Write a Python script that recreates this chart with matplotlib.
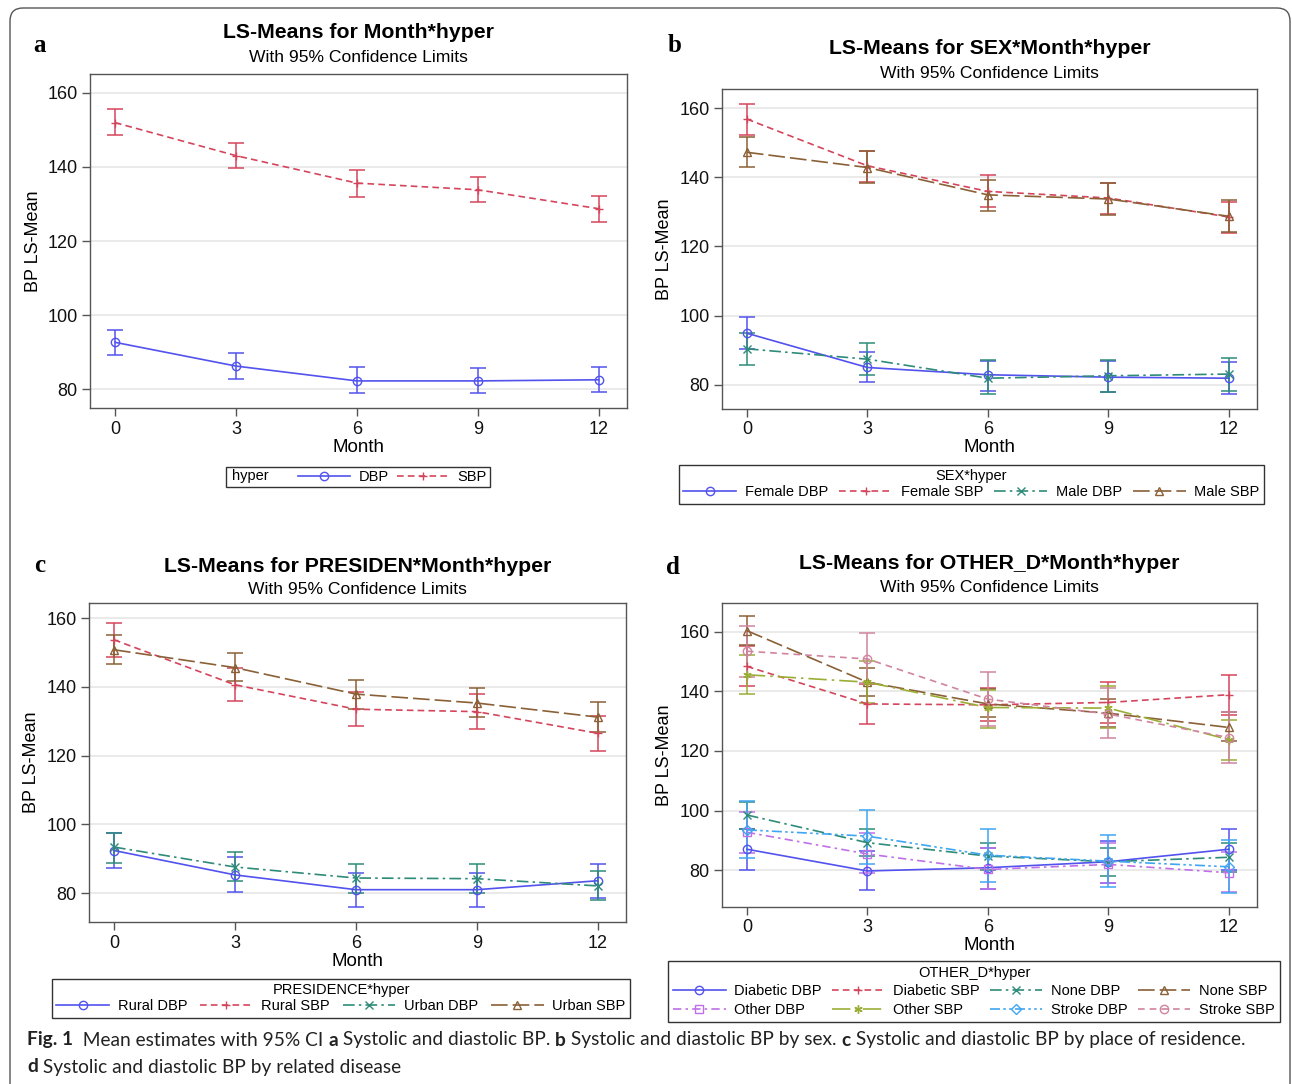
import matplotlib
matplotlib.use("Agg")
import matplotlib.pyplot as plt
import matplotlib.text as mtext
from matplotlib.lines import Line2D
from matplotlib.patches import FancyBboxPatch
import numpy as np

plt.rcParams['font.family'] = ['Liberation Sans', 'DejaVu Sans']

W, H = 1292, 1084

months = [0, 3, 6, 9, 12]

# ---- panel a ----
a_dbp = [92.7, 86.3, 82.3, 82.3, 82.6]
a_dbp_lo = [89.3, 82.9, 79.0, 79.0, 79.2]
a_dbp_hi = [96.1, 89.8, 86.0, 85.7, 86.0]
a_sbp = [151.9, 143.0, 135.6, 133.8, 128.7]
a_sbp_lo = [148.6, 139.7, 131.9, 130.4, 125.2]
a_sbp_hi = [155.5, 146.5, 139.0, 137.2, 132.0]

# ---- panel b ----
female_dbp = [94.9, 85.0, 82.9, 82.2, 81.9]
female_dbp_lo = [90.3, 80.7, 78.3, 77.9, 77.4]
female_dbp_hi = [99.5, 89.6, 86.9, 86.9, 86.7]
female_sbp = [156.8, 143.3, 135.9, 134.0, 128.5]
female_sbp_lo = [152.3, 138.6, 131.4, 129.4, 123.9]
female_sbp_hi = [161.2, 147.7, 140.7, 138.4, 132.8]
male_dbp = [90.4, 87.4, 81.9, 82.6, 83.1]
male_dbp_lo = [85.8, 82.9, 77.3, 77.9, 78.3]
male_dbp_hi = [94.9, 92.2, 87.2, 87.2, 87.7]
male_sbp = [147.2, 142.8, 134.9, 133.7, 128.7]
male_sbp_lo = [142.9, 138.3, 130.1, 129.2, 124.3]
male_sbp_hi = [151.5, 147.7, 139.2, 138.3, 133.5]

# ---- panel c ----
rural_dbp = [92.4, 85.3, 81.0, 81.0, 83.6]
rural_dbp_lo = [87.4, 80.3, 75.9, 75.9, 78.7]
rural_dbp_hi = [97.4, 90.4, 86.0, 86.0, 88.4]
rural_sbp = [153.7, 140.6, 133.5, 132.8, 126.5]
rural_sbp_lo = [148.7, 135.8, 128.5, 127.8, 121.4]
rural_sbp_hi = [158.7, 145.4, 138.4, 137.9, 131.4]
urban_dbp = [93.4, 87.6, 84.4, 84.2, 82.1]
urban_dbp_lo = [88.9, 83.4, 80.0, 80.0, 77.9]
urban_dbp_hi = [97.5, 91.9, 88.4, 88.4, 86.3]
urban_sbp = [150.8, 145.6, 137.9, 135.3, 131.2]
urban_sbp_lo = [146.6, 141.6, 133.5, 131.2, 126.8]
urban_sbp_hi = [155.2, 150.0, 142.1, 139.6, 135.5]

# ---- panel d ----
diab_dbp = [87.0, 79.7, 80.8, 82.8, 87.0]
diab_dbp_lo = [80.0, 73.2, 73.8, 75.7, 80.0]
diab_dbp_hi = [93.7, 86.5, 87.5, 89.8, 93.7]
diab_sbp = [148.4, 135.8, 135.5, 136.3, 138.9]
diab_sbp_lo = [141.7, 129.0, 130.0, 129.4, 132.2]
diab_sbp_hi = [155.1, 142.6, 141.0, 143.2, 145.6]
none_dbp = [98.5, 89.2, 84.7, 82.8, 84.3]
none_dbp_lo = [93.7, 84.7, 80.0, 78.1, 79.4]
none_dbp_hi = [103.0, 93.7, 89.2, 87.3, 89.0]
none_sbp = [160.4, 143.1, 135.8, 132.7, 127.9]
none_sbp_lo = [155.7, 138.3, 131.4, 127.9, 123.2]
none_sbp_hi = [165.3, 147.9, 140.8, 137.4, 133.1]
other_dbp = [92.7, 85.4, 80.2, 81.9, 79.1]
other_dbp_lo = [85.6, 78.9, 73.8, 75.5, 72.6]
other_dbp_hi = [99.4, 92.3, 87.3, 89.0, 86.2]
other_sbp = [145.6, 143.1, 134.6, 134.4, 123.8]
other_sbp_lo = [139.2, 136.1, 127.7, 127.7, 117.0]
other_sbp_hi = [152.4, 150.1, 140.6, 141.7, 130.3]
stroke_dbp = [93.5, 91.4, 85.0, 83.0, 81.1]
stroke_dbp_lo = [84.2, 82.2, 76.1, 74.4, 72.4]
stroke_dbp_hi = [103.2, 100.2, 93.8, 91.8, 90.1]
stroke_sbp = [153.5, 150.9, 137.4, 132.4, 124.5]
stroke_sbp_lo = [145.0, 142.8, 128.5, 124.3, 115.9]
stroke_sbp_hi = [162.1, 159.7, 146.4, 141.1, 133.1]

# styles (colour, linestyle, marker) by group slot
BLUE, RED, TEAL, BROWN = '#5252EE', '#D4455C', '#2E8B78', '#8A6036'
PURPLE, OLIVE, CYAN, PINK = '#C070E6', '#9AAE36', '#3FA6F2', '#D0849F'
ST = {
    'dbp1': (BLUE, '-', 'o'),
    'sbp1': (RED, (0, (4, 2.5)), '+'),
    'dbp2': (TEAL, (0, (7, 2.5, 1.5, 2.5)), 'x'),
    'sbp2': (BROWN, (0, (10, 3)), '^'),
    'dbp3': (PURPLE, (0, (5, 2.5, 1.5, 2.5)), 's'),
    'sbp3': (OLIVE, (0, (11, 3, 1.5, 3)), (6, 2, 0)),
    'dbp4': (CYAN, (0, (6, 2, 1.5, 2, 1.5, 2)), 'D'),
    'sbp4': (PINK, (0, (4, 3)), 'o'),
}


def px_axes(x0, y0, x1, y1):
    return fig.add_axes([x0 / W, 1 - y1 / H, (x1 - x0) / W, (y1 - y0) / H])


def series(ax, key, y, lo, hi):
    color, ls, mk = ST[key]
    y = np.array(y)
    ax.errorbar(months, y, yerr=[y - np.array(lo), np.array(hi) - y], fmt='none',
                ecolor=color, elinewidth=1.1, capsize=5.5, capthick=1.1, zorder=3)
    ax.plot(months, y, color=color, ls=ls, lw=1.2, marker=mk, ms=6 if mk != 'D' else 5,
            mfc='none', mec=color, mew=1.0, zorder=4)


def handle(key):
    color, ls, mk = ST[key]
    return Line2D([], [], color=color, ls=ls, lw=1.2, marker=mk, ms=6 if mk != 'D' else 5,
                  mfc='none', mec=color, mew=1.0)


def style_axes(ax, ylim, box):
    ax.set_xlim(-0.62, 12.7)
    ax.set_ylim(*ylim)
    ax.set_xticks(months)
    ax.set_yticks([80, 100, 120, 140, 160])
    ax.grid(axis='y', color='#E6E6E6', lw=1.2, zorder=0)
    ax.set_axisbelow(True)
    for s in ax.spines.values():
        s.set_color('#555555')
        s.set_linewidth(1.0)
    ax.tick_params(direction='out', length=6, width=1, color='#555555',
                   labelsize=13, labelcolor='#111111', pad=3)
    x0, y0, x1, y1 = box
    fig.text((x0 - 57) / W, 1 - (y0 + y1) / 2 / H, 'BP LS-Mean', rotation=90,
             ha='center', va='center', fontsize=13)


def titles(box, title, ty):
    x0, y0, x1, y1 = box
    cx = (x0 + x1) / 2 / W
    fig.text(cx, 1 - ty / H, title, ha='center', va='center', fontsize=15.3, weight='bold')
    fig.text(cx, 1 - (ty + 24) / H, 'With 95% Confidence Limits', ha='center', va='center',
             fontsize=12.6)


def month_label(box, my):
    x0, y0, x1, y1 = box
    fig.text((x0 + x1) / 2 / W, 1 - my / H, 'Month', ha='center', va='center', fontsize=13.5)


def panel_letter(x, y, s):
    fig.text(x / W, 1 - y / H, s, ha='center', va='center', fontsize=18, weight='bold',
             family=['Liberation Serif', 'DejaVu Serif'])


class InlineTitle:
    pass


class InlineTitleHandler:
    def __init__(self, text):
        self.text = text

    def legend_artist(self, legend, orig_handle, fontsize, handlebox):
        t = mtext.Text(handlebox.xdescent + 2, handlebox.ydescent + handlebox.height / 2,
                       self.text, ha='left', va='center', fontsize=fontsize,
                       transform=handlebox.get_transform())
        handlebox.add_artist(t)
        return t


def box_legend(handles, labels, box, ncol, title=None, handler_map=None, spacing=0.15,
               pad=0.3):
    x0, y0, x1, y1 = box
    leg = fig.legend(handles, labels, loc='upper left', ncol=ncol, mode='expand',
                     bbox_to_anchor=(x0 / W, 1 - y0 / H, (x1 - x0) / W, 0.001),
                     bbox_transform=fig.transFigure, frameon=True, fancybox=False,
                     edgecolor='#333333', framealpha=1, fontsize=10.5, title=title,
                     title_fontsize=10.5, handlelength=3.6, handletextpad=0.6,
                     columnspacing=0.8, labelspacing=spacing, borderpad=pad,
                     borderaxespad=0, numpoints=1, handler_map=handler_map)
    leg.get_frame().set_linewidth(1.0)
    return leg


fig = plt.figure(figsize=(W / 100, H / 100), dpi=100)

# outer rounded frame
fig.patches.append(FancyBboxPatch((0.10, -0.3), 12.80, 11.06,
                                  boxstyle='round,pad=0,rounding_size=0.13',
                                  transform=fig.dpi_scale_trans, fill=False,
                                  ec='#555555', lw=1.0))

# ---- a ----
box_a = (90, 74, 627, 408)
ax = px_axes(*box_a)
series(ax, 'dbp1', a_dbp, a_dbp_lo, a_dbp_hi)
series(ax, 'sbp1', a_sbp, a_sbp_lo, a_sbp_hi)
style_axes(ax, (75, 165), box_a)
titles(box_a, 'LS-Means for Month*hyper', 33)
month_label(box_a, 448)
panel_letter(40, 45, 'a')
box_legend([InlineTitle(), handle('dbp1'), handle('sbp1')], ['', 'DBP', 'SBP'],
           (226, 468, 490, 488), 3, handler_map={InlineTitle: InlineTitleHandler('hyper')},
           pad=0.2)

# ---- b ----
box_b = (722, 89, 1257, 409)
ax = px_axes(*box_b)
series(ax, 'dbp1', female_dbp, female_dbp_lo, female_dbp_hi)
series(ax, 'sbp1', female_sbp, female_sbp_lo, female_sbp_hi)
series(ax, 'dbp2', male_dbp, male_dbp_lo, male_dbp_hi)
series(ax, 'sbp2', male_sbp, male_sbp_lo, male_sbp_hi)
style_axes(ax, (73, 165.5), box_b)
titles(box_b, 'LS-Means for SEX*Month*hyper', 49)
month_label(box_b, 447)
panel_letter(675, 45, 'b')
box_legend([handle('dbp1'), handle('sbp1'), handle('dbp2'), handle('sbp2')],
           ['Female DBP', 'Female SBP', 'Male DBP', 'Male SBP'],
           (679, 466, 1264, 503), 4, title='SEX*hyper')

# ---- c ----
box_c = (89, 603, 626, 922)
ax = px_axes(*box_c)
series(ax, 'dbp1', rural_dbp, rural_dbp_lo, rural_dbp_hi)
series(ax, 'sbp1', rural_sbp, rural_sbp_lo, rural_sbp_hi)
series(ax, 'dbp2', urban_dbp, urban_dbp_lo, urban_dbp_hi)
series(ax, 'sbp2', urban_sbp, urban_sbp_lo, urban_sbp_hi)
style_axes(ax, (71.6, 164.4), box_c)
titles(box_c, 'LS-Means for PRESIDEN*Month*hyper', 566)
month_label(box_c, 961)
panel_letter(40, 565, 'c')
box_legend([handle('dbp1'), handle('sbp1'), handle('dbp2'), handle('sbp2')],
           ['Rural DBP', 'Rural SBP', 'Urban DBP', 'Urban SBP'],
           (52, 980, 630, 1017), 4, title='PRESIDENCE*hyper')

# ---- d ----
box_d = (722, 603, 1257, 907)
ax = px_axes(*box_d)
series(ax, 'dbp1', diab_dbp, diab_dbp_lo, diab_dbp_hi)
series(ax, 'sbp1', diab_sbp, diab_sbp_lo, diab_sbp_hi)
series(ax, 'dbp2', none_dbp, none_dbp_lo, none_dbp_hi)
series(ax, 'sbp2', none_sbp, none_sbp_lo, none_sbp_hi)
series(ax, 'dbp3', other_dbp, other_dbp_lo, other_dbp_hi)
series(ax, 'sbp3', other_sbp, other_sbp_lo, other_sbp_hi)
series(ax, 'dbp4', stroke_dbp, stroke_dbp_lo, stroke_dbp_hi)
series(ax, 'sbp4', stroke_sbp, stroke_sbp_lo, stroke_sbp_hi)
style_axes(ax, (67.6, 169.7), box_d)
titles(box_d, 'LS-Means for OTHER_D*Month*hyper', 564)
month_label(box_d, 946)
panel_letter(673, 568, 'd')
# column-major order so rows read Diabetic/None, Other/Stroke
d_keys = ['dbp1', 'dbp3', 'sbp1', 'sbp3', 'dbp2', 'dbp4', 'sbp2', 'sbp4']
d_labels = ['Diabetic DBP', 'Other DBP', 'Diabetic SBP', 'Other SBP',
            'None DBP', 'Stroke DBP', 'None SBP', 'Stroke SBP']
box_legend([handle(k) for k in d_keys], d_labels, (668, 962, 1280, 1019), 4,
           title='OTHER_D*hyper', spacing=0.3, pad=0.35)

# ---- caption ----
renderer = fig.canvas.get_renderer()


def rich_line(x, y, parts, size=13.75):
    x = x / W
    for s, bold in parts:
        t = fig.text(x, 1 - y / H, s, ha='left', va='center', fontsize=size,
                     weight='bold' if bold else 'normal', family=['Lato', 'DejaVu Sans'],
                     color='#222222')
        x += t.get_window_extent(renderer=renderer).width / W


rich_line(27, 1040, [('Fig. 1', True), ('  Mean estimates with 95% CI ', False), ('a', True),
                     (' Systolic and diastolic BP. ', False), ('b', True),
                     (' Systolic and diastolic BP by sex. ', False), ('c', True),
                     (' Systolic and diastolic BP by place of residence.', False)])
rich_line(27, 1067, [('d', True), (' Systolic and diastolic BP by related disease', False)])

fig.savefig('out.png', dpi=100)
